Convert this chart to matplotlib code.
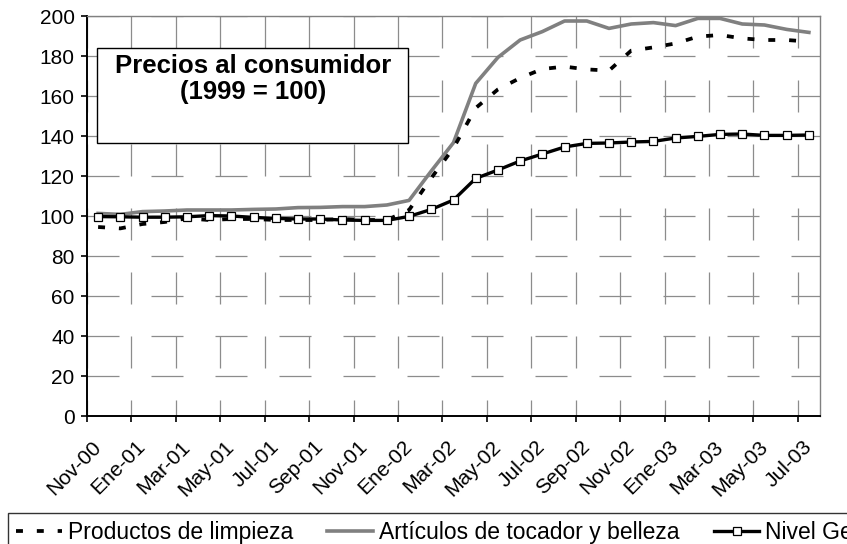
import matplotlib
matplotlib.use("Agg")
import matplotlib.pyplot as plt
from matplotlib.patches import Rectangle

plt.rcParams['font.family'] = ['Liberation Sans', 'DejaVu Sans']
plt.rcParams['lines.scale_dashes'] = False

# meses (Nov-00 .. Jul-03)
meses = ['Nov-00', 'Dic-00', 'Ene-01', 'Feb-01', 'Mar-01', 'Abr-01', 'May-01',
         'Jun-01', 'Jul-01', 'Ago-01', 'Sep-01', 'Oct-01', 'Nov-01', 'Dic-01',
         'Ene-02', 'Feb-02', 'Mar-02', 'Abr-02', 'May-02', 'Jun-02', 'Jul-02',
         'Ago-02', 'Sep-02', 'Oct-02', 'Nov-02', 'Dic-02', 'Ene-03', 'Feb-03',
         'Mar-03', 'Abr-03', 'May-03', 'Jun-03', 'Jul-03']

# indices de precios, 1999 = 100
limpieza = [94.5, 93.8, 96.0, 97.0, 98.8, 98.0, 98.5, 98.5, 98.0, 98.0, 98.0,
            98.5, 98.0, 98.0, 103.0, 119.0, 134.0, 154.0, 163.3, 169.0, 173.5,
            174.7, 173.3, 172.7, 182.7, 184.3, 186.3, 189.7, 190.5, 188.8,
            188.0, 188.0, 187.2]
tocador = [101.3, 100.8, 102.2, 102.5, 103.0, 103.0, 103.0, 103.3, 103.5,
           104.2, 104.3, 104.7, 104.7, 105.5, 107.8, 122.5, 136.7, 166.3,
           179.3, 188.0, 192.2, 197.5, 197.5, 193.8, 196.0, 196.7, 195.2,
           198.8, 198.8, 196.0, 195.5, 193.3, 191.8]
general = [99.7, 99.6, 99.4, 99.4, 99.6, 100.2, 100.0, 99.3, 98.8, 98.5, 98.5,
           98.0, 97.8, 97.8, 99.8, 103.3, 108.0, 118.8, 123.0, 127.5, 131.0,
           134.5, 136.3, 136.5, 137.0, 137.3, 139.0, 139.8, 140.8, 141.0,
           140.3, 140.3, 140.5]

nombres = ['Productos de limpieza', 'Artículos de tocador y belleza', 'Nivel General']

fig = plt.figure(figsize=(8.47, 5.44), dpi=100)
ax = fig.add_axes([87 / 847, 128 / 544, 733 / 847, 400 / 544])

x = list(range(len(meses)))
l1, = ax.plot(x, limpieza, color='black', lw=2.7, linestyle=(0, (5, 10)),
              dash_capstyle='butt', zorder=3)
l2, = ax.plot(x, tocador, color='#808080', lw=2.6, zorder=2)
l3, = ax.plot(x, general, color='black', lw=2.4, marker='s', markersize=5.5,
              markerfacecolor='white', markeredgecolor='black',
              markeredgewidth=0.9, zorder=4)

ax.set_xlim(-0.5, len(meses) - 0.5)
ax.set_ylim(0, 200)
ax.set_yticks(range(0, 201, 20))

# marcas entre categorias, etiquetas cada dos meses
ax.set_xticks([i - 0.5 for i in range(0, len(meses), 2)])
ax.set_xticklabels([])
ax.set_xticks(x[::2], minor=True)
ax.set_xticklabels(meses[::2], minor=True, rotation=45, ha='right',
                   va='center', rotation_mode='anchor')
ax.tick_params(axis='x', which='minor', length=0, pad=20, labelsize=15)
ax.tick_params(axis='x', which='major', length=4, width=1.2, direction='out')
ax.tick_params(axis='y', length=4, width=1.2, direction='out', labelsize=15, pad=5)

grid_kw = dict(color='#8c8c8c', lw=0.9)
ax.yaxis.grid(True, linestyle=(0, (23.04, 23.04)), **grid_kw)
ax.xaxis.grid(True, which='major', linestyle=(11.52, (23.04, 23.04)), **grid_kw)
ax.set_axisbelow(True)

for s in ['left', 'bottom']:
    ax.spines[s].set_color('black')
    ax.spines[s].set_linewidth(1.4)
for s in ['top', 'right']:
    ax.spines[s].set_color('#808080')
    ax.spines[s].set_linewidth(1.0)

# recuadro del titulo
ax.add_patch(Rectangle((0.0136, 0.6825), 0.4243, 0.2375, transform=ax.transAxes,
                       facecolor='white', edgecolor='black', lw=1.0, zorder=5))
ax.text(0.2265, 0.843, 'Precios al consumidor\n(1999 = 100)', transform=ax.transAxes,
        ha='center', va='center', fontsize=18.5, fontweight='bold',
        linespacing=1.12, zorder=6)

# leyenda en una fila, recortada por el borde derecho
leg = fig.legend([l1, l2, l3], nombres, loc='upper left',
                 bbox_to_anchor=(8 / 847, 1 - 513 / 544), ncol=3, fontsize=16.5,
                 frameon=True, fancybox=False, edgecolor='black',
                 borderaxespad=0, borderpad=0.35, handlelength=2.0,
                 handletextpad=0.25, columnspacing=1.5)
leg.get_frame().set_linewidth(1.0)

fig.savefig('out.png', dpi=100)
